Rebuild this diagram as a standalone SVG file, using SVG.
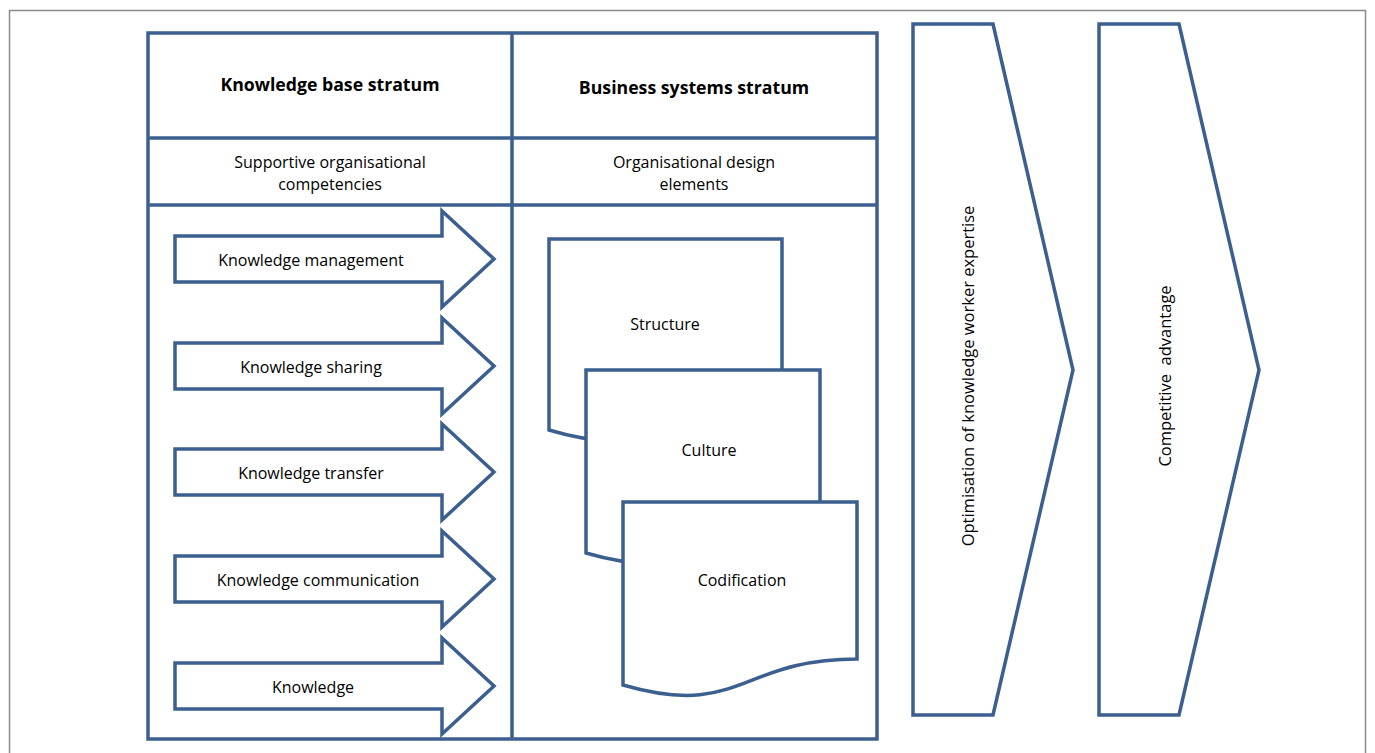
<svg xmlns="http://www.w3.org/2000/svg" width="1375" height="753" viewBox="0 0 1375 753">
<style>
.s{fill:#fff;stroke:#3b5f8e;stroke-width:3.5;stroke-linejoin:miter}
.l{fill:none;stroke:#3b5f8e;stroke-width:3.5}
.t{font-family:"Open Sans","Liberation Sans",sans-serif;font-size:16px;fill:#000;text-anchor:middle}
.r{font-size:16.5px}
.b{font-family:"Open Sans","Liberation Sans",sans-serif;font-size:17.7px;font-weight:bold;fill:#000;text-anchor:middle}
</style>
<defs>
<path id="arr" d="M175,-23 H442 V-48 L494,0 L442,48 V23 H175 Z"/>
</defs>
<rect x="9.5" y="10.5" width="1356" height="760" fill="#fff" stroke="#8a8a8a" stroke-width="1.5"/>
<g id="table">
<rect class="l" x="148" y="33" width="729" height="706"/>
<line class="l" x1="512" y1="33" x2="512" y2="739"/>
<line class="l" x1="148" y1="138" x2="877" y2="138"/>
<line class="l" x1="148" y1="205" x2="877" y2="205"/>
<text class="b" x="330" y="91">Knowledge base stratum</text>
<text class="b" x="694" y="94">Business systems stratum</text>
<text class="t" x="330" y="168">Supportive organisational</text>
<text class="t" x="330" y="190">competencies</text>
<text class="t" x="694" y="168">Organisational design</text>
<text class="t" x="694" y="190">elements</text>
</g>
<g id="arrow-km"><use href="#arr" class="s" y="259"/><text class="t" x="311" y="266">Knowledge management</text></g>
<g id="arrow-ks"><use href="#arr" class="s" y="366"/><text class="t" x="311" y="373">Knowledge sharing</text></g>
<g id="arrow-kt"><use href="#arr" class="s" y="472"/><text class="t" x="311" y="479">Knowledge transfer</text></g>
<g id="arrow-kc"><use href="#arr" class="s" y="579"/><text class="t" x="318" y="586">Knowledge communication</text></g>
<g id="arrow-k"><use href="#arr" class="s" y="686"/><text class="t" x="313" y="693">Knowledge</text></g>
<g id="doc-structure"><path class="s" d="M549,239 H782 V403 C665,403 665,465 549,430 Z"/><text class="t" x="665" y="330">Structure</text></g>
<g id="doc-culture"><path class="s" d="M586,370 H820 V527 C703,527 703,587 586,553 Z"/><text class="t" x="709" y="456">Culture</text></g>
<g id="doc-codification"><path class="s" d="M623,502 H857 V659 C740,659 740,719 623,685 Z"/><text class="t" x="742" y="586">Codification</text></g>
<g id="chevron-optimisation"><path class="s" d="M913,24 H993 L1073,370 L993,715 H913 Z"/><text class="t r" transform="translate(974,376) rotate(-90)">Optimisation of knowledge worker expertise</text></g>
<g id="chevron-advantage"><path class="s" d="M1099,24 H1179 L1259,370 L1179,715 H1099 Z"/><text class="t r" transform="translate(1171,376) rotate(-90)" xml:space="preserve">Competitive  advantage</text></g>
</svg>
